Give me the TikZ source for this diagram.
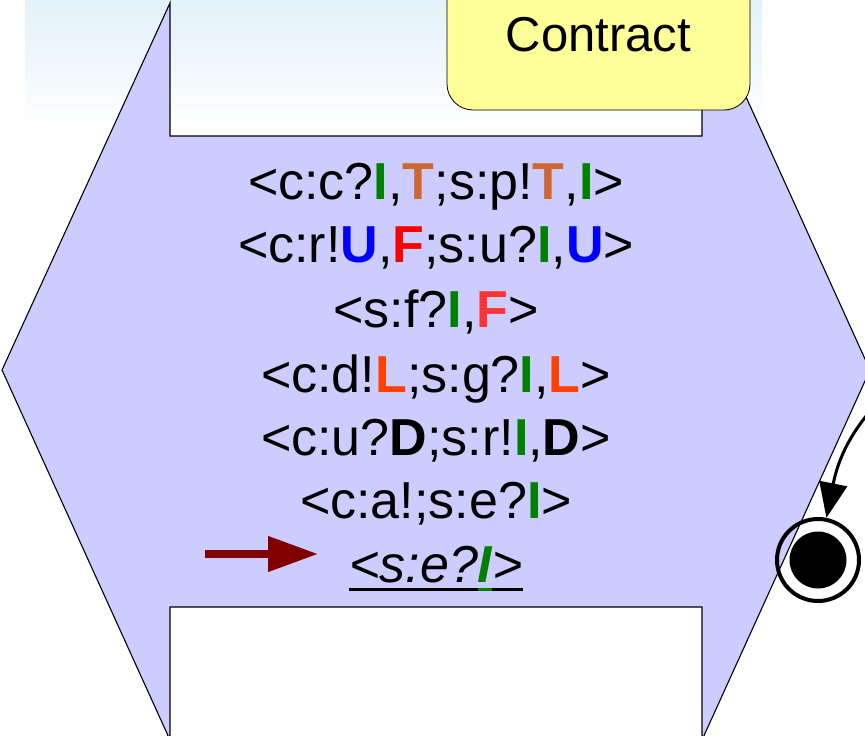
\documentclass[tikz,border=0pt]{standalone}
\usepackage{fontspec}
\setmainfont{Liberation Sans}
\usetikzlibrary{arrows.meta}

\definecolor{sky}{RGB}{226,241,250}
\definecolor{lavender}{RGB}{204,204,255}
\definecolor{note}{RGB}{255,255,153}
\definecolor{tokgreen}{RGB}{0,128,0}
\definecolor{tokbrown}{RGB}{204,102,51}
\definecolor{tokblue}{RGB}{0,0,255}
\definecolor{tokred}{RGB}{255,0,0}
\definecolor{toklight}{RGB}{255,51,51}
\definecolor{tokorange}{RGB}{255,64,0}
\definecolor{pointer}{RGB}{128,0,0}

\newcommand{\tokI}{\textcolor{tokgreen}{\textbf{I}}}
\newcommand{\tokT}{\textcolor{tokbrown}{\textbf{T}}}
\newcommand{\tokU}{\textcolor{tokblue}{\textbf{U}}}
\newcommand{\tokL}{\textcolor{tokorange}{\textbf{L}}}
\newcommand{\tokD}{\textbf{D}}

% thick underline in the current colour
\newlength{\ulw}
\newcommand{\ulpart}[1]{\settowidth{\ulw}{#1}\rlap{\rule[-8.5pt]{\ulw}{3pt}}#1}

\begin{document}
\begin{tikzpicture}[x=1pt, y=-1pt,
    msg/.style={font=\fontsize{52}{60}\selectfont, inner sep=0pt, anchor=base}]
  \useasboundingbox (0,0) rectangle (865,736);
  \clip (0,0) rectangle (865,736);

  % sky behind the top
  \fill[top color=sky, bottom color=white] (25,0) rectangle (762,130);

  % protocol shape with its two notches
  \draw[line width=1.1pt, fill=lavender] (170,3) -- (170,136) -- (702,136) -- (702,0)
    -- (870,370) -- (702,740) -- (702,607) -- (170,607) -- (170,740) -- (2,370) -- cycle;

  % label
  \node[draw, fill=note, rounded corners=26pt, line width=0.8pt,
        minimum width=303pt, minimum height=150pt, inner sep=0pt,
        font=\fontsize{49}{55}\selectfont] (contract) at (598.5,35) {Contract};

  % Nodes
  \node[msg] (l1) at (436,199) {<c:c?\tokI,\tokT;s:p!\tokT,\tokI>};
  \node[msg] (l2) at (436,262) {<c:r!\tokU,\textcolor{tokred}{\textbf{F}};s:u?\tokI,\tokU>};
  \node[msg] (l3) at (436,327) {<s:f?\tokI,\textcolor{toklight}{\textbf{F}}>};
  \node[msg] (l4) at (436,392) {<c:d!\tokL;s:g?\tokI,\tokL>};
  \node[msg] (l5) at (436,455) {<c:u?\tokD;s:r!\tokI,\tokD>};
  \node[msg] (l6) at (436,518) {<c:a!;s:e?\tokI>};

  % current step
  \node[msg] (sel) at (436,582)
    {\itshape\ulpart{<s:e?}{\color{tokgreen}\ulpart{\textbf{I}}}\ulpart{>}};

  \coordinate (ptr) at (205,554);
  \coordinate (ptrtip) at (318,554);
  \draw[pointer, line width=7.5pt, -{Triangle[length=50pt,width=34pt]}] (ptr) -- (ptrtip);

  % final state
  \node[circle, draw, line width=4pt, minimum size=82pt, inner sep=0pt] (final) at (818,560) {};
  \fill (final) circle[radius=28.5];
  \coordinate (src) at (885,395);
  \draw[line width=3pt, -{Triangle[length=35pt,width=28pt]}]
    (src) .. controls (850,430) and (838,460) .. (final);
\end{tikzpicture}
\end{document}
